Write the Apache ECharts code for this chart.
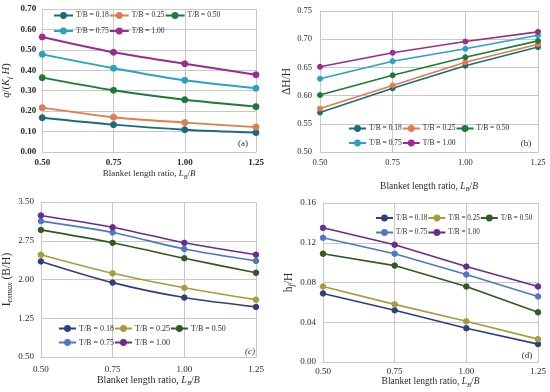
<!DOCTYPE html>
<html><head><meta charset="utf-8">
<script src="https://cdn.jsdelivr.net/npm/echarts@6/dist/echarts.min.js"></script>
<style>html,body{margin:0;padding:0;background:#fff}#c{width:550px;height:392px}</style>
</head><body><div id="c"></div><script>
// ---- data ----
const xTicks = [0.50, 0.75, 1.00, 1.25];
const seriesLabels = ['T/B = 0.18', 'T/B = 0.25', 'T/B = 0.50', 'T/B = 0.75', 'T/B = 1.00'];

// (a) q/(Kf H)
const a018 = [0.168, 0.134, 0.109, 0.095];
const a025 = [0.217, 0.170, 0.144, 0.122];
const a050 = [0.364, 0.302, 0.256, 0.222];
const a075 = [0.478, 0.410, 0.351, 0.312];
const a100 = [0.563, 0.488, 0.432, 0.378];
const aTicks = [0.00, 0.10, 0.20, 0.30, 0.40, 0.50, 0.60, 0.70];

// (b) dH/H
const b018 = [0.570, 0.613, 0.653, 0.686];
const b025 = [0.577, 0.618, 0.659, 0.691];
const b050 = [0.601, 0.636, 0.668, 0.697];
const b075 = [0.630, 0.661, 0.683, 0.707];
const b100 = [0.651, 0.676, 0.696, 0.713];
const bTicks = [0.50, 0.55, 0.60, 0.65, 0.70, 0.75];

// (c) I exmax (B/H)
const c018 = [2.35, 1.94, 1.65, 1.47];
const c025 = [2.48, 2.12, 1.84, 1.61];
const c050 = [2.96, 2.71, 2.41, 2.13];
const c075 = [3.13, 2.91, 2.59, 2.36];
const c100 = [3.24, 3.01, 2.71, 2.48];
const cTicks = [0.50, 1.25, 2.00, 2.75, 3.50];

// (d) hf/H
const d018 = [0.069, 0.052, 0.034, 0.018];
const d025 = [0.076, 0.058, 0.041, 0.023];
const d050 = [0.109, 0.097, 0.076, 0.050];
const d075 = [0.125, 0.109, 0.088, 0.066];
const d100 = [0.135, 0.118, 0.096, 0.076];
const dTicks = [0.00, 0.04, 0.08, 0.12, 0.16];

// ---- styling ----
const FONT = '"Liberation Serif", "Times New Roman", serif';
const colorsAB = ['#1c6b7c', '#e27b4e', '#1e7a34', '#29a2c3', '#9b2b8e'];
const colorsCD = ['#2e3f7c', '#a89b3c', '#2f5a22', '#4c79c2', '#6b2b8c'];
const GRIDC = '#c8c8c8';
const TXT = '#2a2a2a';

const panels = [
  { key: 'a', values: [a018, a025, a050, a075, a100], ticks: aTicks, colors: colorsAB,
    grid: { left: 38, top: 9, width: 218, height: 143 }, smooth: 0.3, lw: 1.9, sym: 6,
    yName: '{i|q}{n|/(}{i|K}{s|f}{n| }{i|H}{n|)}', yGap: 29, yNameSize: 10.5,
    labelSize: 9, labelWeight: 'bold', yMargin: 6, xMargin: 6, xNameGap: 16, xNameSize: 9,
    legend: { left: 53, top1: 11.5, top2: 27, iw: 19, tw: 31, fs: 7.5 },
    tag: { text: '(a)', x: 243, y: 144 } },
  { key: 'b', values: [b018, b025, b050, b075, b100], ticks: bTicks, colors: colorsAB,
    grid: { left: 320, top: 11, width: 218, height: 141 }, smooth: false, lw: 1.6, sym: 5,
    yName: '{n|ΔH/H}', yGap: 23, yNameSize: 11.5,
    labelSize: 8.5, labelWeight: 'normal', yMargin: 8, xMargin: 6, xNameGap: 28, xNameSize: 9.5,
    legend: { left: 348, top1: 124.5, top2: 139, iw: 17, tw: 31, fs: 7.5 },
    tag: { text: '(b)', x: 526, y: 143.5 } },
  { key: 'c', values: [c018, c025, c050, c075, c100], ticks: cTicks, colors: colorsCD,
    grid: { left: 39, top: 202, width: 217, height: 155 }, smooth: 0.3, lw: 1.6, sym: 5.5,
    yName: '{n|I}{s|exmax}{n| (B/H)}', yGap: 22, yNameSize: 11.5,
    labelSize: 9, labelWeight: 'normal', yMargin: 7, xMargin: 8, xNameGap: 17, xNameSize: 10,
    legend: { left: 58, top1: 324.5, top2: 338.5, iw: 17, tw: 41.5, fs: 8 },
    tag: { text: '(c)', x: 250, y: 352, italic: true } },
  { key: 'd', values: [d018, d025, d050, d075, d100], ticks: dTicks, colors: colorsCD,
    grid: { left: 323, top: 203, width: 215, height: 159 }, smooth: false, lw: 1.6, sym: 5.5,
    yName: '{n|h}{s|f}{n|/H}', yGap: 21, yNameSize: 11.5,
    labelSize: 9, labelWeight: 'normal', yMargin: 7, xMargin: 5, xNameGap: 13, xNameSize: 9.5,
    legend: { left: 375, top1: 214.5, top2: 229, iw: 17, tw: 28, fs: 7.2 },
    tag: { text: '(d)', x: 527, y: 356 } }
];

function richFor(size) {
  return {
    n: { fontFamily: FONT, fontSize: size, color: TXT, lineHeight: size + 3 },
    i: { fontFamily: FONT, fontSize: size, color: TXT, fontStyle: 'italic', lineHeight: size + 3 },
    s: { fontFamily: FONT, fontSize: size * 0.68, color: TXT, fontStyle: 'italic', verticalAlign: 'bottom', lineHeight: size * 0.6 }
  };
}

const grids = [], xAxes = [], yAxes = [], series = [], legends = [], graphics = [];
panels.forEach((p, pi) => {
  grids.push(Object.assign({ containLabel: false }, p.grid));
  const t = p.ticks;
  xAxes.push({
    type: 'value', gridIndex: pi, min: xTicks[0], max: xTicks[xTicks.length - 1],
    interval: xTicks[1] - xTicks[0],
    axisLine: { show: true, lineStyle: { color: GRIDC } }, axisTick: { show: false },
    splitLine: { show: true, lineStyle: { color: GRIDC, width: 1 } },
    axisLabel: { formatter: v => v.toFixed(2), fontFamily: FONT, fontSize: p.labelSize, fontWeight: p.labelWeight, color: TXT, margin: p.xMargin },
    name: '{n|Blanket length ratio, }{i|L}{s|B}{n|/}{i|B}', nameLocation: 'middle', nameGap: p.xNameGap,
    nameTextStyle: { rich: richFor(p.xNameSize) }
  });
  yAxes.push({
    type: 'value', gridIndex: pi, min: t[0], max: t[t.length - 1],
    interval: +(t[1] - t[0]).toFixed(4),
    axisLine: { show: true, lineStyle: { color: GRIDC } }, axisTick: { show: false },
    splitLine: { show: true, lineStyle: { color: GRIDC, width: 1 } },
    axisLabel: { formatter: v => v.toFixed(2), fontFamily: FONT, fontSize: p.labelSize, fontWeight: p.labelWeight, color: TXT, margin: p.yMargin },
    name: p.yName, nameLocation: 'middle', nameGap: p.yGap, nameRotate: 90,
    nameTextStyle: { rich: richFor(p.yNameSize) }
  });
  const names = seriesLabels.map(l => p.key + '|' + l);
  p.values.forEach((vals, si) => {
    series.push({
      type: 'line', name: names[si], xAxisIndex: pi, yAxisIndex: pi,
      data: vals.map((v, k) => [xTicks[k], v]),
      smooth: p.smooth, symbol: 'circle', symbolSize: p.sym, showSymbol: true,
      lineStyle: { color: p.colors[si], width: p.lw },
      itemStyle: { color: p.colors[si], borderColor: p.colors[si], borderWidth: 1 },
      z: 3 + si, animation: false
    });
  });
  const L = p.legend;
  const base = {
    orient: 'horizontal', left: L.left, padding: 0, itemGap: 0, itemWidth: L.iw, itemHeight: 6,
    selectedMode: false, formatter: n => n.split('|')[1],
    textStyle: { fontFamily: FONT, fontSize: L.fs, color: TXT, width: L.tw, padding: [0, 0, 0, -2] }
  };
  legends.push(Object.assign({}, base, { top: L.top1, data: names.slice(0, 3) }));
  legends.push(Object.assign({}, base, { top: L.top2, data: names.slice(3) }));
  graphics.push({
    type: 'text', x: p.tag.x, y: p.tag.y,
    style: { text: p.tag.text, fontFamily: FONT, fontSize: 9, fill: TXT, fontStyle: p.tag.italic ? 'italic' : 'normal', textAlign: 'center', textVerticalAlign: 'middle' }
  });
});

const chart = echarts.init(document.getElementById('c'), null, { renderer: 'canvas' });
chart.setOption({
  animation: false,
  backgroundColor: '#fff',
  grid: grids, xAxis: xAxes, yAxis: yAxes, series: series, legend: legends, graphic: graphics
});
</script></body></html>
